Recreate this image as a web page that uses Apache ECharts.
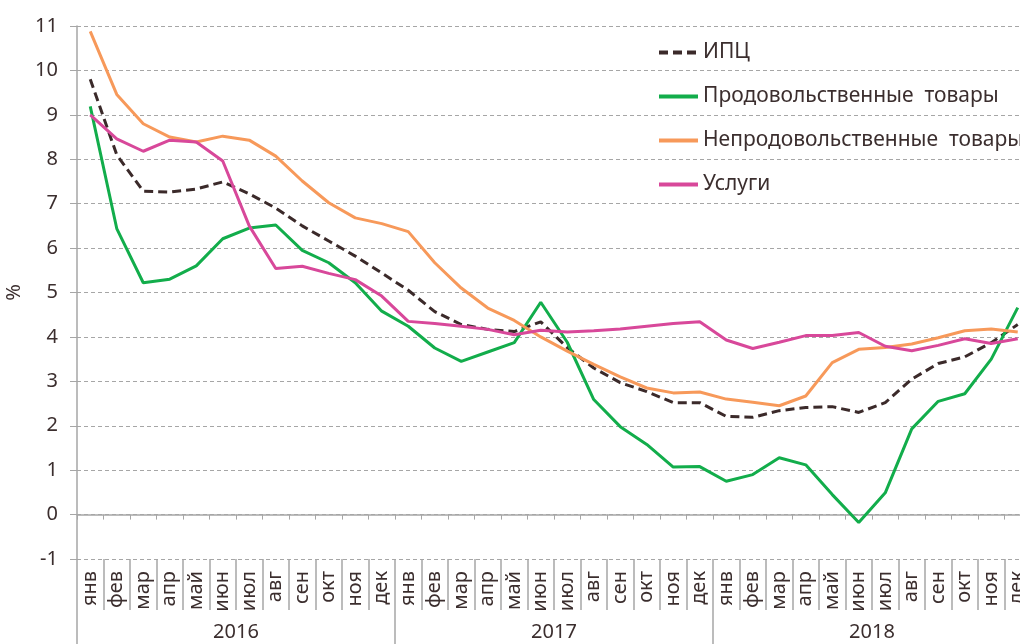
<!DOCTYPE html>
<html>
<head>
<meta charset="utf-8">
<script src="https://cdn.jsdelivr.net/npm/echarts@6/dist/echarts.min.js"></script>
<style>
  html, body { margin: 0; padding: 0; background: #fff; }
  #chart { width: 1020px; height: 644px; }
</style>
</head>
<body>
<div id="chart"></div>
<script>
// months, 2016-2018
var months = ['янв','фев','мар','апр','май','июн','июл','авг','сен','окт','ноя','дек',
              'янв','фев','мар','апр','май','июн','июл','авг','сен','окт','ноя','дек',
              'янв','фев','мар','апр','май','июн','июл','авг','сен','окт','ноя','дек'];
var years = ['2016', '2017', '2018'];

var cpi = [9.8, 8.1, 7.28, 7.26, 7.33, 7.49, 7.22, 6.9, 6.5, 6.16, 5.82, 5.44,
           5.05, 4.57, 4.28, 4.17, 4.12, 4.34, 3.76, 3.3, 2.97, 2.77, 2.52, 2.52,
           2.21, 2.19, 2.34, 2.41, 2.43, 2.3, 2.52, 3.05, 3.4, 3.55, 3.87, 4.28];
var food = [9.19, 6.44, 5.22, 5.3, 5.6, 6.21, 6.45, 6.52, 5.95, 5.67, 5.22, 4.58,
            4.24, 3.75, 3.45, 3.66, 3.87, 4.78, 3.88, 2.59, 1.98, 1.58, 1.07, 1.08,
            0.75, 0.9, 1.28, 1.12, 0.45, -0.18, 0.49, 1.93, 2.55, 2.72, 3.5, 4.66];
var nonfood = [10.88, 9.46, 8.8, 8.5, 8.39, 8.52, 8.43, 8.07, 7.51, 7.02, 6.68, 6.55,
               6.37, 5.67, 5.1, 4.65, 4.37, 4.0, 3.68, 3.38, 3.1, 2.85, 2.74, 2.76,
               2.6, 2.53, 2.45, 2.67, 3.42, 3.72, 3.76, 3.84, 3.98, 4.14, 4.18, 4.11];
var services = [9.0, 8.46, 8.18, 8.43, 8.39, 7.96, 6.5, 5.54, 5.59, 5.43, 5.29, 4.92,
                4.35, 4.3, 4.24, 4.17, 4.05, 4.15, 4.11, 4.14, 4.18, 4.24, 4.3, 4.34,
                3.93, 3.74, 3.88, 4.03, 4.03, 4.1, 3.79, 3.69, 3.81, 3.96, 3.85, 3.96];

var txt = '#3b2e2e';
var gray = '#a6a6a6';
var font = 'Noto Sans';

var chart = echarts.init(document.getElementById('chart'));
chart.setOption({
    animation: false,
    textStyle: { fontFamily: font, color: txt },
    // plot runs past the right edge, like the source
    grid: { left: 77, width: 954, top: 26, bottom: 85, containLabel: false, outerBoundsMode: 'none' },
    legend: {
        orient: 'vertical',
        left: 657,
        top: 42,
        padding: 0,
        itemWidth: 39,
        itemHeight: 14,
        itemGap: 23,
        itemStyle: { opacity: 0 },
        lineStyle: { width: 4 },
        textStyle: { fontSize: 21, color: txt, fontFamily: font, lineHeight: 21 },
        data: ['ИПЦ', 'Продовольственные  товары', 'Непродовольственные  товары', 'Услуги']
    },
    xAxis: [
        {
            // axis line at zero
            type: 'category',
            data: months,
            boundaryGap: true,
            axisLine: { onZero: true, lineStyle: { color: gray, width: 1.5 } },
            axisTick: { show: true, interval: 0, length: 5, lineStyle: { color: gray } },
            axisLabel: { show: false },
            splitLine: { show: false }
        },
        {
            // month labels
            type: 'category',
            data: months,
            position: 'bottom',
            boundaryGap: true,
            axisLine: { show: false, onZero: false },
            axisTick: { show: true, interval: 0, length: 51, lineStyle: { color: gray, width: 1.5 } },
            axisLabel: { interval: 0, rotate: 90, margin: 12, fontSize: 20, color: txt, fontFamily: font }
        },
        {
            // years
            type: 'category',
            data: years,
            position: 'bottom',
            offset: 51,
            boundaryGap: true,
            axisLine: { show: false, onZero: false },
            axisTick: { show: true, interval: 0, length: 40, lineStyle: { color: gray, width: 1.5 } },
            axisLabel: { interval: 0, margin: 12, fontSize: 20, color: txt, fontFamily: font }
        }
    ],
    yAxis: {
        type: 'value',
        min: -1,
        max: 11,
        interval: 1,
        name: '%',
        nameLocation: 'middle',
        nameRotate: 90,
        nameGap: 48,
        nameTextStyle: { fontSize: 20, color: txt, fontFamily: font },
        axisLine: { show: true, lineStyle: { color: gray, width: 1.5 } },
        axisTick: { show: true, length: 7, lineStyle: { color: gray } },
        axisLabel: { margin: 19, fontSize: 20, color: txt, fontFamily: font },
        splitLine: { show: true, lineStyle: { color: gray, type: [4, 3], width: 1 } }
    },
    series: [
        {
            name: 'ИПЦ', type: 'line', data: cpi, symbol: 'none', z: 3,
            itemStyle: { color: '#3b2a2a' },
            lineStyle: { color: '#3b2a2a', width: 3, type: [9, 5] }
        },
        {
            name: 'Продовольственные  товары', type: 'line', data: food, symbol: 'none',
            itemStyle: { color: '#12ad4b' },
            lineStyle: { color: '#12ad4b', width: 3 }
        },
        {
            name: 'Непродовольственные  товары', type: 'line', data: nonfood, symbol: 'none',
            itemStyle: { color: '#f7995a' },
            lineStyle: { color: '#f7995a', width: 3 }
        },
        {
            name: 'Услуги', type: 'line', data: services, symbol: 'none',
            itemStyle: { color: '#d8489a' },
            lineStyle: { color: '#d8489a', width: 3 }
        }
    ]
});
</script>
</body>
</html>
